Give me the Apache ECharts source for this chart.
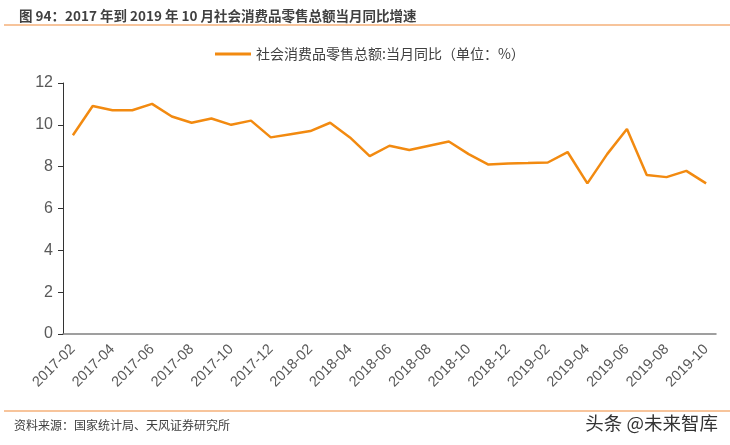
<!DOCTYPE html>
<html>
<head>
<meta charset="utf-8">
<script src="https://cdn.jsdelivr.net/npm/echarts@6/dist/echarts.min.js"></script>
<style>
  html, body { margin: 0; padding: 0; background: #fff; }
  #chart { width: 730px; height: 445px; }
</style>
</head>
<body>
<div id="chart"></div>
<script>
// months 2017-02 .. 2019-10
const months = [
  '2017-02', '2017-03', '2017-04', '2017-05', '2017-06', '2017-07', '2017-08', '2017-09', '2017-10', '2017-11', '2017-12',
  '2018-01', '2018-02', '2018-03', '2018-04', '2018-05', '2018-06', '2018-07', '2018-08', '2018-09', '2018-10', '2018-11', '2018-12',
  '2019-01', '2019-02', '2019-03', '2019-04', '2019-05', '2019-06', '2019-07', '2019-08', '2019-09', '2019-10'
];
const retailYoY = [
  9.5, 10.9, 10.7, 10.7, 11.0, 10.4, 10.1, 10.3, 10.0, 10.2, 9.4,
  9.55, 9.7, 10.1, 9.4, 8.5, 9.0, 8.8, 9.0, 9.2, 8.6, 8.1, 8.15,
  8.17, 8.2, 8.7, 7.2, 8.6, 9.8, 7.6, 7.5, 7.8, 7.2
];
const seriesName = '社会消费品零售总额:当月同比（单位：%）';
const titleText = '图 94：2017 年到 2019 年 10 月社会消费品零售总额当月同比增速';
const sourceText = '资料来源：国家统计局、天风证券研究所';
const markText = '头条 @未来智库';

const chart = echarts.init(document.getElementById('chart'));
const cjk = '"Noto Sans CJK SC", "Liberation Sans", sans-serif';

chart.setOption({
  animation: false,
  textStyle: { fontFamily: cjk },
  title: {
    text: titleText,
    left: 14,
    top: 4,
    textStyle: { fontSize: 13.5, fontWeight: 'bold', color: '#404040', fontFamily: cjk }
  },
  legend: {
    top: 42,
    left: 210,
    itemWidth: 36,
    itemHeight: 3,
    itemGap: 4,
    icon: 'rect',
    textStyle: { fontSize: 14, color: '#404040', fontFamily: cjk },
    data: [seriesName]
  },
  grid: { left: 63, right: 14, top: 83, bottom: 111, containLabel: false },
  xAxis: {
    type: 'category',
    data: months,
    boundaryGap: true,
    axisLine: { lineStyle: { color: '#808080', width: 1.5 } },
    axisTick: { interval: 1, length: 5, lineStyle: { color: '#333' } },
    axisLabel: {
      interval: 1,
      rotate: 45,
      fontSize: 14.5,
      color: '#595959',
      fontFamily: '"Liberation Sans", Arial, sans-serif',
      margin: 13
    }
  },
  yAxis: {
    type: 'value',
    min: 0,
    max: 12,
    interval: 2,
    splitLine: { show: false },
    axisLine: { show: true, lineStyle: { color: '#333' } },
    axisTick: { show: true, length: 5, lineStyle: { color: '#333' } },
    axisLabel: {
      fontSize: 16,
      color: '#595959',
      fontFamily: '"Liberation Sans", Arial, sans-serif',
      margin: 10
    }
  },
  series: [{
    name: seriesName,
    type: 'line',
    data: retailYoY,
    symbol: 'none',
    color: '#F28A10',
    lineStyle: { width: 2.5, color: '#F28A10' }
  }],
  graphic: [
    { type: 'line', shape: { x1: 4, y1: 25, x2: 730, y2: 25 }, style: { stroke: '#F5B07A', lineWidth: 1.5 } },
    { type: 'line', shape: { x1: 4, y1: 411, x2: 730, y2: 411 }, style: { stroke: '#F5B07A', lineWidth: 1.5 } },
    { type: 'text', left: 14, top: 419, style: { text: sourceText, fontSize: 12, fill: '#404040', fontFamily: cjk } },
    { type: 'text', right: 12, top: 414, style: { text: markText, fontSize: 18.5, fill: '#333', fontFamily: cjk } }
  ]
});
</script>
</body>
</html>
